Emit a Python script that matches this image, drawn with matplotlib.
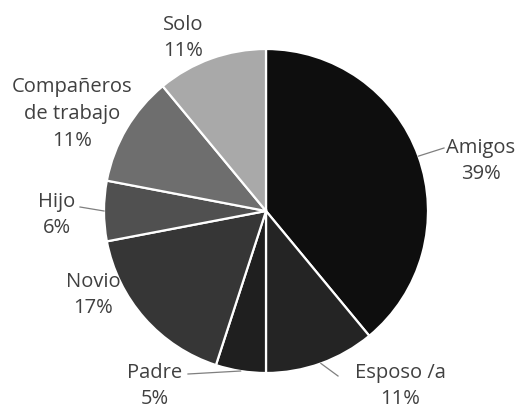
import numpy as np
import matplotlib
matplotlib.use("Agg")
import matplotlib.pyplot as plt

labels = ["Amigos", "Esposo /a", "Padre", "Novio", "Hijo", "Compañeros\nde trabajo", "Solo"]
values = [39, 11, 5, 17, 6, 11, 11]
colors = ["#0e0e0e", "#242424", "#1f1f1f", "#363636", "#505050", "#6e6e6e", "#a9a9a9"]

# label centres and leader end points (pixel layout, y measured from top)
label_pos = [(481, 161), (400, 386), (155, 386), (93, 295), (57, 215), (72, 114), (183, 38)]
leader_end = [(444, 148), (338, 376), (188, 374), None, (80, 207), None, None]

W, H = 517, 411
fig = plt.figure(figsize=(W / 100, H / 100), dpi=100)
ax = fig.add_axes([0, 0, 1, 1])

cx, cy, r = 266, H - 211, 162
wedges, _ = ax.pie(values, colors=colors, startangle=90, counterclock=False,
                   center=(cx, cy), radius=r, frame=True,
                   wedgeprops=dict(edgecolor="white", linewidth=1.6))
ax.set_xlim(0, W)
ax.set_ylim(0, H)
ax.set_aspect("equal")
ax.axis("off")

txt_color = "#404040"
for w, lab, v, pos, end in zip(wedges, labels, values, label_pos, leader_end):
    ax.text(pos[0], H - pos[1], f"{lab}\n{v}%", ha="center", va="center",
            fontsize=14.5, family=["Open Sans", "DejaVu Sans"], color=txt_color,
            linespacing=1.45)
    if end is not None:
        mid = np.deg2rad((w.theta1 + w.theta2) / 2)
        x0, y0 = cx + r * np.cos(mid), cy + r * np.sin(mid)
        ax.plot([x0, end[0]], [y0, H - end[1]], color="#7f7f7f", lw=0.9)

fig.savefig("out.png", dpi=100)
